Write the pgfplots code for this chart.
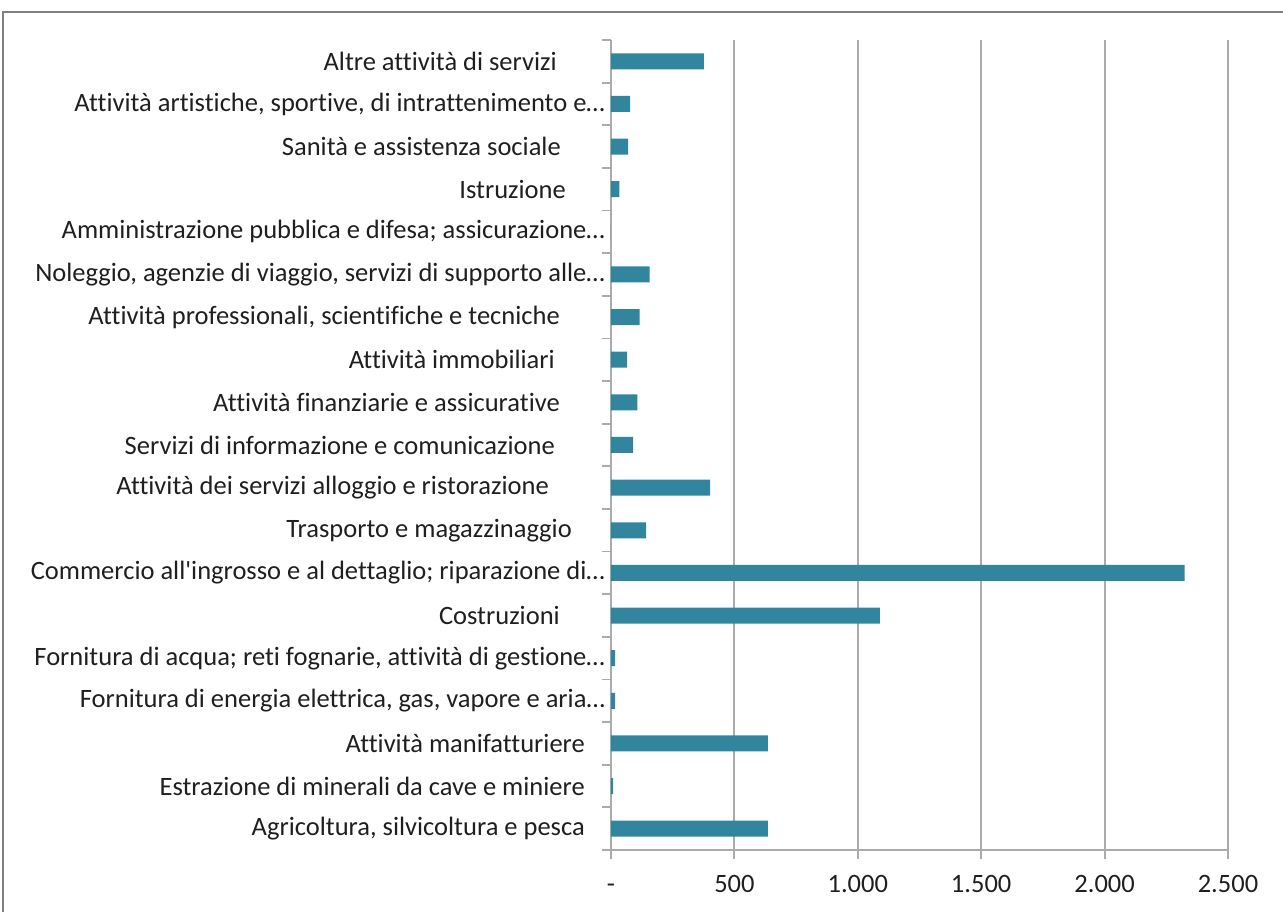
\documentclass[border=0pt]{standalone}
\usepackage{pgfplots}
\pgfplotsset{compat=1.18}
\usepackage{fontspec}
\setmainfont[Ligatures={NoCommon}]{Carlito}
\definecolor{barc}{HTML}{31859C}
\definecolor{gridc}{HTML}{ABABAB}
\definecolor{txt}{HTML}{1F1F1F}
\begin{document}
\begin{tikzpicture}
\useasboundingbox (0,0) rectangle (1283pt,912pt);
\draw[color=black!50, line width=1.5pt] (3pt,0) -- (3pt,900pt) -- (1283pt,900pt);
\begin{axis}[
  at={(611pt,62pt)}, anchor=south west,
  width=617pt, height=810pt, scale only axis,
  xmin=0, xmax=2500, ymin=-0.5, ymax=18.5,
  axis x line*=bottom, axis y line*=left,
  x axis line style={draw=gridc, line width=1.8pt},
  y axis line style={draw=gridc, line width=1.8pt},
  xtick={0,500,1000,1500,2000,2500},
  xticklabels={-,500,1.000,1.500,2.000,2.500},
  xmajorgrids,
  grid style={draw=gridc, line width=1.8pt},
  ytick={-0.5,0.5,...,18.5},
  yticklabel={\mbox{}},
  major tick length=9pt,
  tick align=outside,
  every tick/.style={draw=gridc, line width=1.8pt},
  tick label style={font=\fontsize{26.5pt}{30pt}\selectfont, text=txt},
  xticklabel style={anchor=base, inner sep=0pt, yshift=-34pt},
  extra y ticks={0,...,18},
  extra y tick style={major tick length=0pt,
    yticklabel style={anchor=east, inner sep=0pt, xshift=-6pt}},
  extra y tick labels={
    {Agricoltura, silvicoltura e pesca\hspace*{20pt}},
    {Estrazione di minerali da cave e miniere\hspace*{20pt}},
    {Attività manifatturiere\hspace*{20pt}},
    {Fornitura di energia elettrica, gas, vapore e aria…},
    {Fornitura di acqua; reti fognarie, attività di gestione…},
    {Costruzioni\hspace*{45pt}},
    {Commercio all\textquotesingle ingrosso e al dettaglio; riparazione di…},
    {Trasporto e magazzinaggio\hspace*{33pt}},
    {Attività dei servizi alloggio e ristorazione\hspace*{56pt}},
    {Servizi di informazione e comunicazione\hspace*{50pt}},
    {Attività finanziarie e assicurative\hspace*{45pt}},
    {Attività immobiliari\hspace*{50pt}},
    {Attività professionali, scientifiche e tecniche\hspace*{45pt}},
    {Noleggio, agenzie di viaggio, servizi di supporto alle…},
    {Amministrazione pubblica e difesa; assicurazione…},
    {Istruzione\hspace*{39pt}},
    {Sanità e assistenza sociale\hspace*{44pt}},
    {Attività artistiche, sportive, di intrattenimento e…},
    {Altre attività di servizi\hspace*{48pt}}
  },
  xbar, bar width=16pt,
]
\addplot[fill=barc, draw=none] coordinates {
  (636,0) (9,1) (636,2) (17,3) (17,4) (1089,5) (2324,6) (142,7) (402,8)
  (90,9) (107,10) (65,11) (116,12) (157,13) (0,14) (34,15) (69,16) (78,17) (376,18)
};
\end{axis}
\end{tikzpicture}
\end{document}
